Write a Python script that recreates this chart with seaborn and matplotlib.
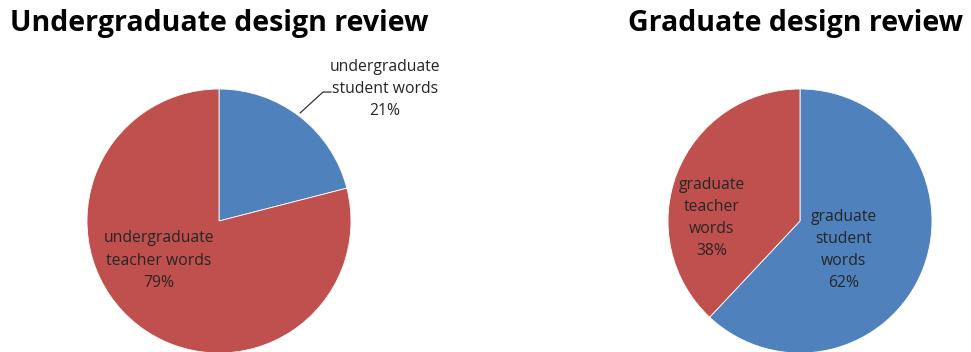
import matplotlib
matplotlib.use("Agg")
import matplotlib.pyplot as plt
import seaborn as sns

# ---- data ----
ug_categories = ["undergraduate\nstudent words", "undergraduate\nteacher words"]
ug_values = [21, 79]
gr_categories = ["graduate\nstudent\nwords", "graduate\nteacher\nwords"]
gr_values = [62, 38]
titles = ["Undergraduate design review", "Graduate design review"]

sns.set_theme(style="white")
plt.rcParams["font.family"] = ["Open Sans", "DejaVu Sans"]
colors = ["#4F81BD", "#C0504D"]
text_color = "#262626"

W, H = 971, 352
fig = plt.figure(figsize=(W / 100, H / 100), dpi=100)
fig.patch.set_facecolor("white")

R = 132  # pie radius, px


def make_ax(cx, cy_top):
    cy = H - cy_top
    ax = fig.add_axes([(cx - R) / W, (cy - R) / H, 2 * R / W, 2 * R / H])
    ax.set_xlim(-1, 1)
    ax.set_ylim(-1, 1)
    ax.set_axis_off()
    return ax


fs = 11.3
ls = 1.52

# Undergraduate pie
ax1 = make_ax(219, 221)
ax1.pie(ug_values, colors=colors, startangle=90, counterclock=False, radius=1,
        wedgeprops=dict(linewidth=0.6, edgecolor="white"))
ax1.set_xlim(-1, 1)
ax1.set_ylim(-1, 1)
ax1.text(1.258, 1.0, f"{ug_categories[0]}\n{ug_values[0]}%", ha="center", va="center",
         fontsize=fs, color=text_color, linespacing=ls, clip_on=False)
ax1.plot([0.614, 0.788, 0.85], [0.818, 0.977, 0.977], color="#333333", lw=0.9, clip_on=False)
ax1.text(-0.455, -0.30, f"{ug_categories[1]}\n{ug_values[1]}%", ha="center", va="center",
         fontsize=fs, color=text_color, linespacing=ls)

# Graduate pie
ax2 = make_ax(800, 221)
ax2.pie(gr_values, colors=colors, startangle=90, counterclock=False, radius=1,
        wedgeprops=dict(linewidth=0.6, edgecolor="white"))
ax2.set_xlim(-1, 1)
ax2.set_ylim(-1, 1)
ax2.text(0.333, -0.22, f"{gr_categories[0]}\n{gr_values[0]}%", ha="center", va="center",
         fontsize=fs, color=text_color, linespacing=ls)
ax2.text(-0.667, 0.023, f"{gr_categories[1]}\n{gr_values[1]}%", ha="center", va="center",
         fontsize=fs, color=text_color, linespacing=ls)

# Titles
fig.text(10 / W, 1 - 23 / H, titles[0], ha="left", va="center", fontsize=20.5,
         fontweight="bold", color="black")
fig.text(963 / W, 1 - 23 / H, titles[1], ha="right", va="center", fontsize=20.5,
         fontweight="bold", color="black")

fig.savefig("out.png", dpi=100, facecolor="white")
